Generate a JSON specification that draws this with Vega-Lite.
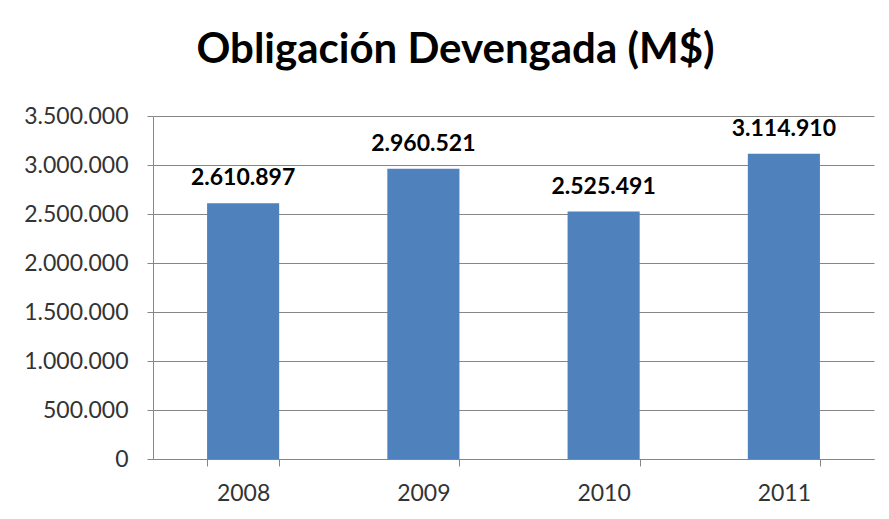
{
  "$schema": "https://vega.github.io/schema/vega-lite/v6.json",
  "width": 721,
  "height": 343,
  "autosize": {"type": "none"},
  "padding": {"left": 153, "top": 116, "right": 15, "bottom": 60},
  "background": "white",
  "title": {
    "text": "Obligación Devengada (M$)",
    "font": "Lato",
    "fontSize": 42,
    "fontWeight": "bold",
    "color": "black",
    "anchor": "middle",
    "baseline": "alphabetic",
    "dx": -58,
    "offset": 0
  },
  "data": {
    "values": [
      {"year": "2008", "value": 2610897},
      {"year": "2009", "value": 2960521},
      {"year": "2010", "value": 2525491},
      {"year": "2011", "value": 3114910}
    ]
  },
  "encoding": {
    "x": {
      "field": "year",
      "type": "ordinal",
      "scale": {"paddingInner": 0.6, "paddingOuter": 0.3},
      "axis": {
        "title": null,
        "labelAngle": 0,
        "labelFont": "Lato",
        "labelFontSize": 23,
        "labelColor": "#333333",
        "domainColor": "#868686",
        "tickColor": "#868686",
        "tickSize": 7,
        "tickBand": "extent",
        "labelPadding": 16,
        "grid": false
      }
    },
    "y": {
      "field": "value",
      "type": "quantitative",
      "scale": {"domain": [0, 3500000]},
      "axis": {
        "title": null,
        "values": [0, 500000, 1000000, 1500000, 2000000, 2500000, 3000000, 3500000],
        "format": ",d",
        "labelFont": "Lato",
        "labelFontSize": 23,
        "labelColor": "#333333",
        "domainColor": "#868686",
        "tickColor": "#868686",
        "gridColor": "#868686",
        "tickSize": 6,
        "labelPadding": 19
      }
    }
  },
  "layer": [
    {"mark": {"type": "bar", "color": "#4F81BD"}},
    {
      "mark": {"type": "text", "baseline": "alphabetic", "dy": -18, "font": "Lato", "fontSize": 23, "fontWeight": "bold", "color": "black"},
      "encoding": {"text": {"field": "value", "type": "quantitative", "format": ",d"}}
    }
  ],
  "config": {
    "view": {"stroke": null},
    "locale": {"number": {"decimal": ",", "thousands": ".", "grouping": [3], "currency": ["$", ""]}}
  }
}
